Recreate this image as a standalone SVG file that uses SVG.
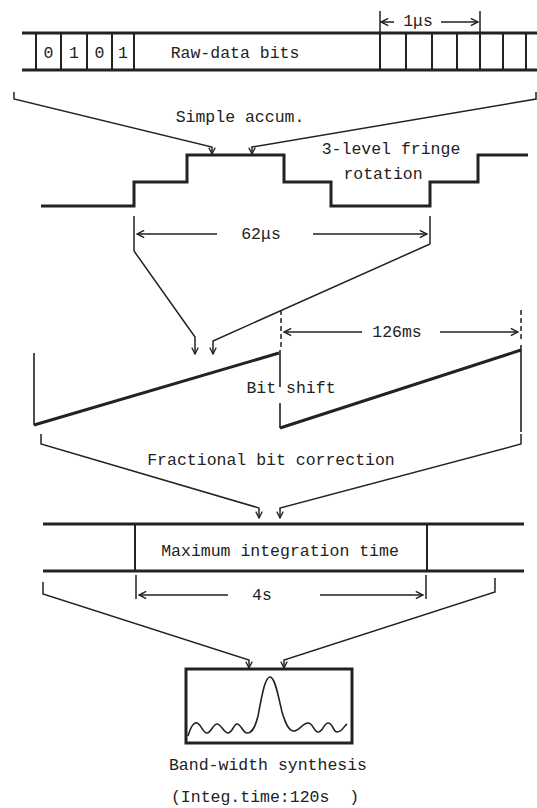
<svg xmlns="http://www.w3.org/2000/svg" width="537" height="808" viewBox="0 0 537 808">
<style>
text{font-family:"Liberation Mono","DejaVu Sans Mono",monospace;font-size:16.5px;fill:#222;text-anchor:middle}
.thick{fill:none;stroke:#222;stroke-width:3}
.thin{fill:none;stroke:#222;stroke-width:1.6}
.cell{fill:none;stroke:#222;stroke-width:2}
.conn{fill:none;stroke:#222;stroke-width:1.5;marker-end:url(#ah)}
.dim{fill:none;stroke:#222;stroke-width:1.5}
.dash{fill:none;stroke:#222;stroke-width:1.5;stroke-dasharray:5 3}
</style>
<defs>
<marker id="ah" viewBox="0 0 10 10" refX="9" refY="5" markerWidth="8" markerHeight="8" markerUnits="userSpaceOnUse" orient="auto">
<path d="M1,1 L9,5 L1,9" fill="none" stroke="#222" stroke-width="1.6"/>
</marker>
<marker id="da" viewBox="0 0 10 10" refX="9" refY="5" markerWidth="9" markerHeight="9" markerUnits="userSpaceOnUse" orient="auto-start-reverse">
<path d="M1,1 L9,5 L1,9" fill="none" stroke="#222" stroke-width="1.6"/>
</marker>
</defs>

<g id="raw-data">
<path class="thick" d="M22,33 H537 M22,70 H537"/>
<path class="cell" d="M36,33 V70 M61,33 V70 M87,33 V70 M112,33 V70 M134,33 V70 M380,33 V70 M406,33 V70 M432,33 V70 M457,33 V70 M480,33 V70 M503,33 V70 M526,33 V70"/>
<text x="48.5" y="58">0</text>
<text x="74" y="58">1</text>
<text x="99.5" y="58">0</text>
<text x="123" y="58">1</text>
<text x="235" y="58">Raw-data bits</text>
</g>

<g id="dim-1us">
<path class="dim" d="M380,11 V33 M480,11 V33"/>
<path class="dim" d="M394,22 H381" marker-end="url(#da)"/>
<path class="dim" d="M441,22 H478" marker-end="url(#da)"/>
<text x="418" y="26">1μs</text>
</g>

<g id="fringe-rotation">
<path class="thick" d="M41,206 H134 V182 H187 V155 H284 V182 H331 V206 H430 V182 H478 V155 H528"/>
<text x="391" y="154">3-level fringe</text>
<text x="383" y="179">rotation</text>
</g>

<g id="dim-62us">
<path class="dim" d="M134,216 V251 M430,216 V244"/>
<path class="dim" d="M217,234 H137" marker-end="url(#da)"/>
<path class="dim" d="M313,234 H427" marker-end="url(#da)"/>
<text x="261" y="239">62μs</text>
</g>

<g id="bit-shift">
<path class="thin" d="M34,353 V425 M280,350 V387 M280,403 V428 M521,345 V432"/>
<path class="thick" d="M34,425 L279,353 M280,428 L521,350"/>
<text x="291" y="393">Bit shift</text>
</g>

<g id="dim-126ms">
<path class="dash" d="M281,310 V348 M521,310 V342"/>
<path class="dim" d="M362,332 H284" marker-end="url(#da)"/>
<path class="dim" d="M440,332 H518" marker-end="url(#da)"/>
<text x="397" y="337">126ms</text>
</g>

<g id="integration">
<path class="thick" d="M43,524 H524 M43,571 H524"/>
<path class="cell" d="M135,524 V571 M427,524 V571"/>
<text x="280" y="556">Maximum integration time</text>
</g>

<g id="dim-4s">
<path class="dim" d="M136,575 V599 M426,575 V599"/>
<path class="dim" d="M228,595 H139" marker-end="url(#da)"/>
<path class="dim" d="M320,595 H423" marker-end="url(#da)"/>
<text x="262" y="600">4s</text>
</g>

<g id="bws">
<rect x="186" y="669" width="166" height="74" fill="none" stroke="#222" stroke-width="3"/>
<path class="thin" d="M188,736 C191,726 194,722 197,723 C201,724 203,733 207,733 C211,733 213,724 217,724 C221,724 224,733 228,733 C232,733 234,724 237,724 C241,724 243,733 247,733 C252,733 255,728 258,716 C262,695 265,677 270,677 C275,677 278,695 282,712 C285,722 288,730 293,731 C299,732 302,723 308,723 C313,723 314,732 318,732 C323,732 324,723 328,723 C333,723 333,732 337,732 C342,732 344,726 347,724"/>
<text x="268" y="770">Band-width synthesis</text>
<text x="265" y="802" xml:space="preserve">(Integ.time:120s  )</text>
</g>

<g id="labels">
<text x="240" y="122">Simple accum.</text>
<text x="271" y="465">Fractional bit correction</text>
</g>

<g id="connectors">
<path class="conn" d="M14,92 V99 L212,147 V154"/>
<path class="conn" d="M536,92 V99 L252,147 V154"/>
<path class="conn" d="M134,251 L195,337 V354"/>
<path class="conn" d="M430,244 L213,341 V354"/>
<path class="conn" d="M41,434 V444 L259,508 V518"/>
<path class="conn" d="M521,434 V444 L280,508 V518"/>
<path class="conn" d="M43,582 V594 L249,660 V668"/>
<path class="conn" d="M495,578 V592 L284,660 V668"/>
</g>
</svg>
